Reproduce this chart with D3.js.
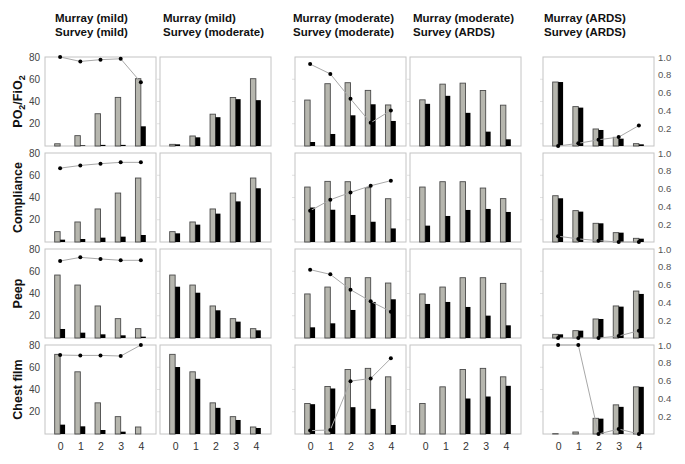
<!DOCTYPE html>
<html><head><meta charset="utf-8">
<script src="https://cdn.jsdelivr.net/npm/d3@7"></script>
<style>body{margin:0;background:#fff} svg{display:block} text{font-family:"Liberation Sans",Arial,sans-serif}</style>
</head><body><svg id="c" width="685" height="464"></svg>
<script>
// ---------- data ----------
const categories = [0, 1, 2, 3, 4];
const rowLabels = ["PO2/FiO2", "Compliance", "Peep", "Chest film"];
const murrayTitles = ["Murray (mild)", "Murray (mild)", "Murray (moderate)", "Murray (moderate)", "Murray (ARDS)"];
const surveyTitles = ["Survey (mild)", "Survey (moderate)", "Survey (moderate)", "Survey (ARDS)", "Survey (ARDS)"];
const leftTicks = [20, 40, 60, 80];
const rightTicks = [0.2, 0.4, 0.6, 0.8, 1.0];

// gray bars (Murray), [row][col]
const grayPO2 = [
  [2, 9.3, 29, 43.7, 60.5],
  [1.5, 9, 28.6, 43.6, 60.5],
  [41.3, 56, 56.9, 50, 36.9],
  [41.5, 55.6, 56.5, 49.9, 36.7],
  [57.5, 35.4, 15.3, 7.8, 2.1]
];
const grayCompliance = [
  [9.3, 18, 29.7, 44, 57.5],
  [9.3, 18, 29.7, 44, 57.5],
  [49.4, 54.5, 54.2, 48.8, 38.9],
  [49.4, 54.2, 54.2, 48.5, 39],
  [41.6, 28.2, 16.8, 8.4, 3.3]
];
const grayPeep = [
  [56.6, 47.6, 28.8, 17.4, 8.4],
  [56.6, 47.6, 28.8, 17.4, 8.4],
  [39.6, 45.8, 54.2, 54.2, 49.4],
  [39.6, 45.8, 54.2, 54.2, 49.1],
  [3.3, 6.6, 17.1, 28.8, 42.2]
];
const grayChest = [
  [71.6, 55.9, 28, 15.6, 6.3],
  [71.6, 55.9, 28, 15.6, 6.3],
  [27.4, 42.7, 58, 59, 51.4],
  [27.4, 42.4, 58, 59, 51.4],
  [0.3, 1.8, 14.1, 26.2, 42.4]
];
// black bars (Survey)
const blackPO2 = [
  [0, 0.6, 1, 1, 17.7],
  [1.5, 7.8, 25.9, 42.1, 41.2],
  [3.6, 10.8, 27.6, 37.5, 22.5],
  [37.9, 45.1, 29.8, 12.9, 6],
  [57.5, 34.5, 14.4, 6.6, 1.5]
];
const blackCompliance = [
  [2.1, 2.7, 3.9, 4.8, 6.3],
  [7.8, 15.6, 25.5, 36.5, 48.3],
  [31, 29, 24.3, 18.2, 12.2],
  [14.7, 23.4, 28.8, 29.7, 27],
  [39.3, 27.3, 16.8, 8.4, 3.0]
];
const blackPeep = [
  [8.1, 4.8, 3.3, 2.4, 1.2],
  [46.1, 40.7, 24.9, 14.7, 6.9],
  [9.6, 13.2, 25.2, 32.4, 34.8],
  [30.6, 32.4, 27.9, 20.1, 11.4],
  [3.3, 6.6, 17.1, 28.2, 39.6]
];
const blackChest = [
  [8.4, 6.9, 3.6, 2.1, 0],
  [60.2, 49.6, 23.5, 12.6, 5.4],
  [26.8, 40.9, 24.1, 22.6, 8.1],
  [0, 0, 31.9, 33.7, 43.3],
  [0, 0, 13.8, 24.4, 42.4]
];
// agreement line (right axis 0-1), null = no line in that column
const linePO2 = [
  [1.0, 0.95, 0.97, 0.98, 0.715], null,
  [0.92, 0.81, 0.53, 0.26, 0.40], null,
  [0, 0.03, 0.07, 0.1, 0.23]
];
const lineCompliance = [
  [0.83, 0.86, 0.88, 0.895, 0.895], null,
  [0.35, 0.475, 0.557, 0.632, 0.689], null,
  [0.065, 0.035, 0.015, 0, 0]
];
const linePeep = [
  [0.865, 0.906, 0.888, 0.873, 0.873], null,
  [0.768, 0.715, 0.543, 0.412, 0.296], null,
  [0, 0, 0, 0.022, 0.082]
];
const lineChest = [
  [0.887, 0.883, 0.883, 0.876, 1.0], null,
  [0.038, 0.045, 0.594, 0.624, 0.85], null,
  [1.0, 1.0, 0, 0.056, 0]
];

const grayRows = [grayPO2, grayCompliance, grayPeep, grayChest];
const blackRows = [blackPO2, blackCompliance, blackPeep, blackChest];
const lineRows = [linePO2, lineCompliance, linePeep, lineChest];

// ---------- layout ----------
const svg = d3.select("#c");
const pw = 111, ph = 89;
const colX = [45, 160, 295, 410, 543];
const rowY = [57, 153, 249, 345];
const titleDx = [10, 3, -2, 3, 1];

const x = d3.scalePoint().domain(categories).range([0, pw]).padding(0.75);
const y = d3.scaleLinear().domain([0, 80]).range([ph, 0]);
const yR = d3.scaleLinear().domain([0, 1]).range([ph, 0]);
const bw = x.step() * 0.27;

// column titles
colX.forEach((cx, c) => {
  const t = svg.append("text").attr("x", cx + titleDx[c]).attr("y", 22)
    .attr("font-size", 11.5).attr("font-weight", "bold").attr("fill", "#111");
  t.append("tspan").attr("x", cx + titleDx[c]).attr("y", 22).text(murrayTitles[c]);
  t.append("tspan").attr("x", cx + titleDx[c]).attr("y", 36).text(surveyTitles[c]);
});

// row labels
rowY.forEach((ry, r) => {
  const t = svg.append("text")
    .attr("transform", `translate(22,${ry + ph / 2}) rotate(-90)`)
    .attr("text-anchor", "middle").attr("font-weight", "bold")
    .attr("font-size", 12.5).attr("fill", "#111");
  if (r === 0) {
    t.append("tspan").text("PO");
    t.append("tspan").attr("font-size", 9).attr("dy", 3).text("2");
    t.append("tspan").attr("dy", -3).text("/FiO");
    t.append("tspan").attr("font-size", 9).attr("dy", 3).text("2");
  } else {
    t.text(rowLabels[r]);
  }
});

const line = d3.line().x((d, i) => x(categories[i])).y(d => yR(d));

rowY.forEach((ry, r) => {
  colX.forEach((cx, c) => {
    const g = svg.append("g").attr("transform", `translate(${cx},${ry})`);
    // faint inner ticks
    g.selectAll("line.ft").data(c === 0 ? [] : leftTicks.slice(0, 3)).enter().append("line")
      .attr("x1", -3).attr("x2", 0).attr("y1", d => y(d)).attr("y2", d => y(d))
      .attr("stroke", "#e2e2e2");
    g.append("rect").attr("x", 0).attr("y", 0).attr("width", pw).attr("height", ph)
      .attr("fill", "#fff").attr("stroke", "#c4c4c4").attr("stroke-width", 1);

    const gv = grayRows[r][c], bv = blackRows[r][c];
    g.selectAll("rect.gray").data(categories.filter((k, i) => gv[i] > 0)).enter().append("rect")
      .attr("class", "gray")
      .attr("x", k => x(k) - bw).attr("width", bw)
      .attr("y", k => y(gv[k])).attr("height", k => ph - y(gv[k]))
      .attr("fill", "#b6b6ae").attr("stroke", "#4a4a4a").attr("stroke-width", 0.9);
    g.selectAll("rect.black").data(categories.filter((k, i) => bv[i] > 0)).enter().append("rect")
      .attr("class", "black")
      .attr("x", k => x(k)).attr("width", bw - 0.5)
      .attr("y", k => y(bv[k])).attr("height", k => ph - y(bv[k]))
      .attr("fill", "#000");

    const lv = lineRows[r][c];
    if (lv) {
      g.append("path").datum(lv).attr("d", line)
        .attr("fill", "none").attr("stroke", "#a8a8a8").attr("stroke-width", 1);
      g.selectAll("circle").data(lv).enter().append("circle")
        .attr("cx", (d, i) => x(categories[i])).attr("cy", d => yR(d)).attr("r", 2)
        .attr("fill", "#000");
    }

    if (c === 0) {
      const ax = g.append("g").call(d3.axisLeft(y).tickValues(leftTicks).tickSize(0).tickPadding(5));
      ax.select(".domain").remove();
      ax.selectAll("text").attr("font-size", 10).attr("fill", "#444").attr("font-family", "Liberation Sans, Arial, sans-serif");
    }
    if (c === 4) {
      const ax = g.append("g").attr("transform", `translate(${pw},0)`)
        .call(d3.axisRight(yR).tickValues(rightTicks).tickFormat(d3.format(".1f")).tickSize(0).tickPadding(4));
      ax.select(".domain").remove();
      ax.selectAll("text").attr("font-size", 9.5).attr("fill", "#555").attr("font-family", "Liberation Sans, Arial, sans-serif");
    }
    if (r === 3) {
      const ax = g.append("g").attr("transform", `translate(0,${ph})`)
        .call(d3.axisBottom(x).tickSize(0).tickPadding(9));
      ax.select(".domain").remove();
      ax.selectAll("text").attr("font-size", 10.5).attr("fill", "#333").attr("font-family", "Liberation Sans, Arial, sans-serif");
    }
  });
});
</script></body></html>
